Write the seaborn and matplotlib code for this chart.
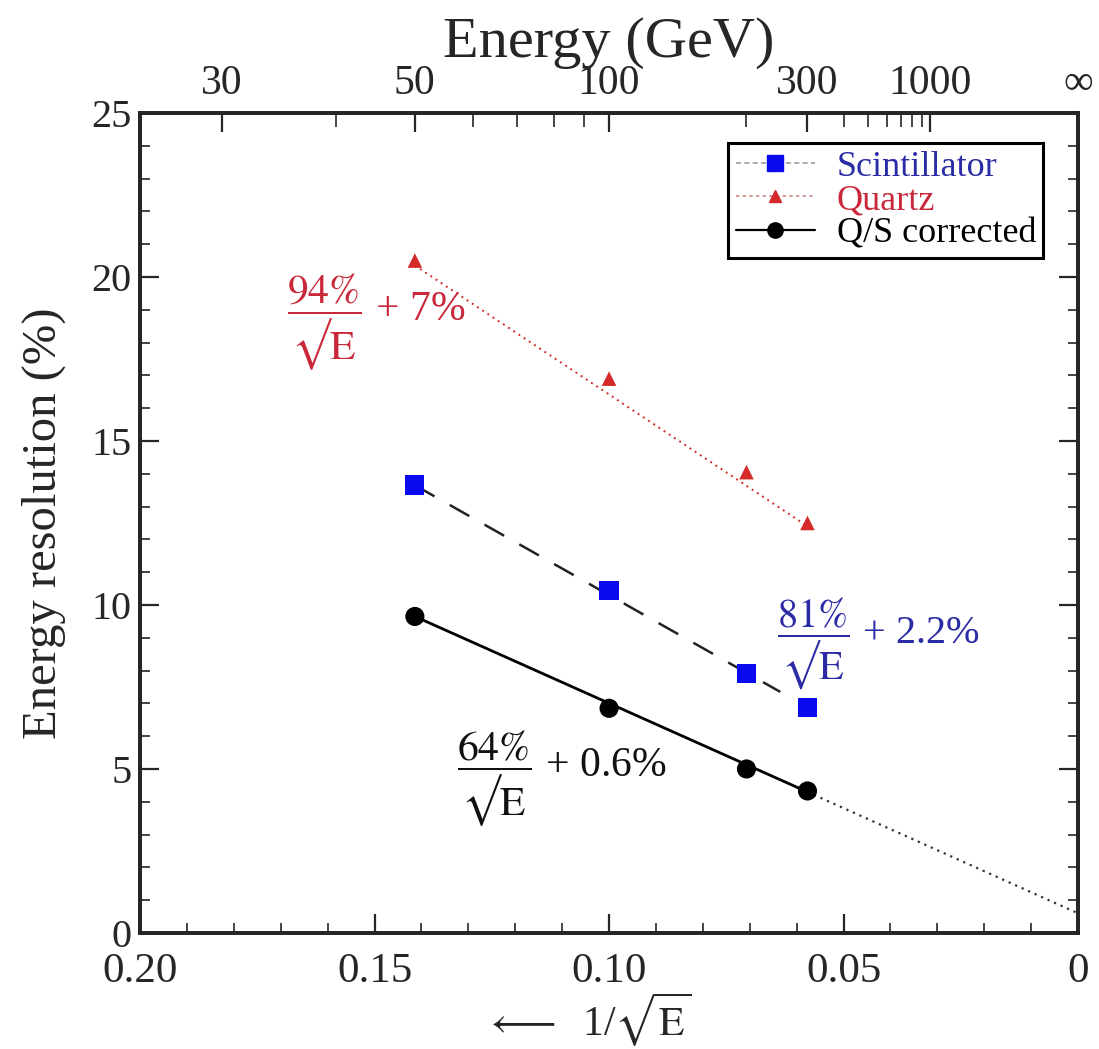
import numpy as np
import pandas as pd
import matplotlib
matplotlib.use("Agg")
import matplotlib.pyplot as plt
from matplotlib.lines import Line2D
import seaborn as sns

# ---------------- data ----------------
inv_sqrt_e = [0.1414, 0.1000, 0.0707, 0.0577]          # 1/sqrt(E) for 50,100,200,300 GeV
scint_res = [13.66, 10.45, 7.90, 6.88]
quartz_res = [20.50, 16.90, 14.05, 12.50]
qs_res = [9.65, 6.85, 5.00, 4.33]

# fit-line end points
quartz_fit_x = [0.1414, 0.0577]
quartz_fit_y = [20.35, 12.40]
scint_fit_x = [0.1414, 0.0635]
scint_fit_y = [13.65, 7.35]
qs_fit_x = [0.1414, 0.0577]
qs_fit_y = [9.65, 4.30]
qs_ext_x = [0.0577, 0.0]
qs_ext_y = [4.30, 0.60]

top_major_e = [30, 50, 100, 300, 1000]
top_major_labels = ["30", "50", "100", "300", "1000", "\u221e"]
top_minor_e = [40, 60, 70, 80, 90, 200, 400, 500, 600, 700, 800, 900]

x_ticks = [0.20, 0.15, 0.10, 0.05, 0.0]
x_tick_labels = ["0.20", "0.15", "0.10", "0.05", "0"]
y_ticks = [0, 5, 10, 15, 20, 25]

BLUE = "#0a0aee"
RED = "#d42a2a"
BLUE_TXT = "#2b2ba6"
RED_TXT = "#c8283a"

sns.set_theme(style="ticks")
plt.rcParams["font.family"] = ["Liberation Serif", "DejaVu Serif"]
plt.rcParams["mathtext.fontset"] = "stix"
plt.rcParams["axes.linewidth"] = 2.6

fig = plt.figure(figsize=(10.99, 10.49), dpi=100)
ax = fig.add_axes([0.1274, 0.1106, 0.981 - 0.1274, 0.8923 - 0.1106])
ax.set_facecolor("white")

# fit lines
sns.lineplot(x=quartz_fit_x, y=quartz_fit_y, ax=ax, color=RED, lw=1.4,
             linestyle=(0, (1, 2.2)), estimator=None, sort=False)
sns.lineplot(x=scint_fit_x, y=scint_fit_y, ax=ax, color="#222222", lw=1.8,
             linestyle=(0, (9, 7)), estimator=None, sort=False)
sns.lineplot(x=qs_fit_x, y=qs_fit_y, ax=ax, color="black", lw=2.0,
             estimator=None, sort=False)
sns.lineplot(x=qs_ext_x, y=qs_ext_y, ax=ax, color="#333333", lw=1.6,
             linestyle=(0, (1, 2.2)), estimator=None, sort=False)

# data points
sns.scatterplot(x=inv_sqrt_e, y=scint_res, ax=ax, marker="s", s=190,
                color=BLUE, edgecolor="none", zorder=5)
sns.scatterplot(x=inv_sqrt_e, y=quartz_res, ax=ax, marker="^", s=110,
                color=RED, edgecolor="none", zorder=5)
sns.scatterplot(x=inv_sqrt_e, y=qs_res, ax=ax, marker="o", s=190,
                color="black", edgecolor="none", zorder=5)

ax.set_xlim(0.20, 0.0)
ax.set_ylim(0, 25)
ax.set_xticks(x_ticks)
ax.set_xticklabels(x_tick_labels)
ax.set_xticks(np.arange(0.0, 0.2001, 0.01), minor=True)
ax.set_yticks(y_ticks)
ax.set_yticks(np.arange(0, 25.01, 1), minor=True)
ax.tick_params(axis="both", which="major", direction="in", length=14, width=1.6,
               top=False, right=True)
ax.tick_params(axis="both", which="minor", direction="in", length=7, width=1.2,
               top=False, right=True)
ax.tick_params(axis="x", which="major", labelsize=31, pad=14)
ax.tick_params(axis="y", which="major", labelsize=29, pad=6)
for sp in ax.spines.values():
    sp.set_visible(True)
    sp.set_color("black")

ax.set_ylabel("Energy resolution (%)", fontsize=35, labelpad=18)
ax.set_xlabel("")
fig.text(0.535, 0.028, r"$\longleftarrow$  1/$\sqrt{\mathrm{E}}$", fontsize=30,
         ha="center", va="center")

# top energy axis
ax2 = ax.twiny()
ax2.set_xlim(ax.get_xlim())
top_pos = [1 / np.sqrt(e) for e in top_major_e] + [0.0]
ax2.set_xticks(top_pos)
ax2.set_xticklabels(top_major_labels)
ax2.set_xticks([1 / np.sqrt(e) for e in top_minor_e], minor=True)
ax2.tick_params(axis="x", which="major", direction="in", length=14, width=1.6,
                labelsize=30, pad=7)
ax2.tick_params(axis="x", which="minor", direction="in", length=10, width=1.2)
ax2.set_xlabel("Energy (GeV)", fontsize=42, labelpad=6)
ax2.grid(False)
ax.grid(False)

# annotations
ax.text(0.1687, 18.63, r"$\dfrac{94\%}{√\mathrm{E}}$ + 7%", color=RED_TXT,
        fontsize=30, va="center", ha="left")
ax.text(0.0642, 8.82, r"$\dfrac{81\%}{√\mathrm{E}}$ + 2.2%", color=BLUE_TXT,
        fontsize=29, va="center", ha="left")
ax.text(0.1324, 4.72, r"$\dfrac{64\%}{√\mathrm{E}}$ + 0.6%", color="#111111",
        fontsize=30, va="center", ha="left")

# legend
handles = [
    Line2D([], [], color="#999999", lw=1.2, linestyle=(0, (3, 2)), marker="s",
           markersize=11, markerfacecolor=BLUE, markeredgecolor=BLUE),
    Line2D([], [], color="#cc8888", lw=1.2, linestyle=(0, (2, 2)), marker="^",
           markersize=9, markerfacecolor=RED, markeredgecolor=RED),
    Line2D([], [], color="black", lw=1.6, marker="o", markersize=11,
           markerfacecolor="black", markeredgecolor="black"),
]
leg = ax.legend(handles, ["Scintillator", "Quartz", "Q/S corrected"],
                loc="upper right", bbox_to_anchor=(0.963, 0.963),
                fontsize=26, frameon=True, fancybox=False, framealpha=1,
                edgecolor="black", labelspacing=0.0, handlelength=2.2,
                handletextpad=0.6, borderpad=0.2, borderaxespad=0.0)
leg.get_frame().set_linewidth(2.2)
for t, c in zip(leg.get_texts(), [BLUE_TXT, RED_TXT, "black"]):
    t.set_color(c)

fig.savefig("out.png", dpi=100, facecolor="white")
